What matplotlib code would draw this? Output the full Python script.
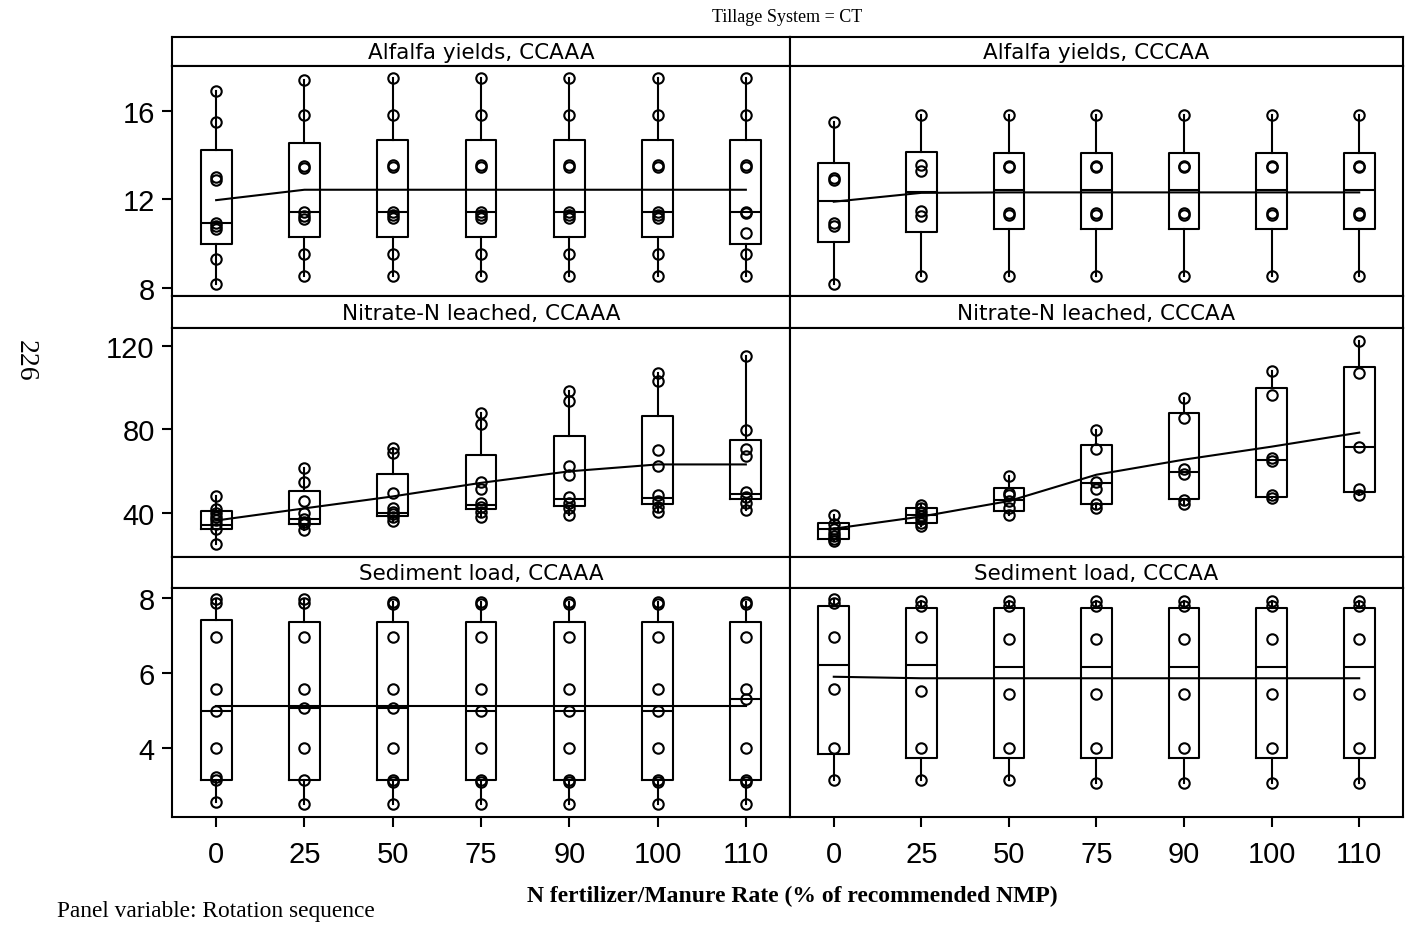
import numpy as np
import matplotlib
matplotlib.use("Agg")
import matplotlib.pyplot as plt

W, H = 1405, 937

rates = ["0", "25", "50", "75", "90", "100", "110"]
rotations = ["CCAAA", "CCCAA"]
responses = ["Alfalfa yields", "Nitrate-N leached", "Sediment load"]

# ---- Alfalfa yields ----
alf_ccaaa_pts = [
    [16.9, 15.5, 13.0, 12.9, 10.95, 10.8, 10.65, 9.3, 8.2],
    [17.38, 15.83, 13.5, 13.4, 11.44, 11.26, 11.11, 9.55, 8.53],
    [17.5, 15.83, 13.55, 13.45, 11.44, 11.3, 11.15, 9.55, 8.53],
    [17.5, 15.83, 13.55, 13.45, 11.44, 11.3, 11.15, 9.55, 8.53],
    [17.5, 15.83, 13.55, 13.45, 11.44, 11.3, 11.15, 9.55, 8.53],
    [17.5, 15.83, 13.55, 13.45, 11.44, 11.3, 11.15, 9.55, 8.53],
    [17.5, 15.83, 13.55, 13.45, 11.44, 11.38, 10.47, 9.55, 8.53],
]
alf_ccaaa_q1 = [10.0, 10.31, 10.31, 10.31, 10.31, 10.31, 9.97]
alf_ccaaa_med = [10.95, 11.44, 11.44, 11.44, 11.44, 11.44, 11.44]
alf_ccaaa_q3 = [14.25, 14.56, 14.69, 14.69, 14.69, 14.69, 14.69]
alf_ccaaa_mean = [11.97, 12.44, 12.44, 12.44, 12.44, 12.44, 12.44]

alf_cccaa_pts = [
    [15.49, 12.97, 12.9, 10.95, 10.8, 8.2],
    [15.83, 13.56, 13.3, 11.5, 11.25, 8.53],
    [15.83, 13.52, 13.45, 11.38, 11.3, 8.53],
    [15.83, 13.52, 13.45, 11.38, 11.3, 8.53],
    [15.83, 13.52, 13.45, 11.38, 11.3, 8.53],
    [15.83, 13.52, 13.45, 11.38, 11.3, 8.53],
    [15.83, 13.52, 13.45, 11.38, 11.3, 8.53],
]
alf_cccaa_q1 = [10.08, 10.53, 10.66, 10.66, 10.66, 10.66, 10.66]
alf_cccaa_med = [11.94, 12.32, 12.44, 12.44, 12.44, 12.44, 12.44]
alf_cccaa_q3 = [13.65, 14.14, 14.1, 14.1, 14.1, 14.1, 14.1]
alf_cccaa_mean = [11.9, 12.3, 12.32, 12.32, 12.32, 12.32, 12.32]

# ---- Nitrate-N leached ----
no3_ccaaa_pts = [
    [48.2, 42.0, 40.3, 38.4, 36.7, 34.6, 32.3, 25.3],
    [61.5, 55.0, 46.0, 40.2, 37.1, 35.6, 34.6, 32.2],
    [71.0, 69.0, 49.5, 42.6, 40.7, 39.5, 38.3, 36.2],
    [88.1, 82.5, 54.8, 51.4, 45.0, 42.8, 40.8, 38.3],
    [98.6, 93.7, 62.4, 58.4, 47.5, 44.8, 42.3, 39.3],
    [107.0, 103.0, 70.4, 62.4, 48.6, 46.0, 43.0, 40.4],
    [115.2, 79.8, 70.7, 67.5, 50.0, 47.8, 45.0, 41.7],
]
no3_ccaaa_q1 = [32.5, 35.0, 38.5, 42.0, 43.3, 44.4, 46.6]
no3_ccaaa_med = [34.5, 37.0, 40.1, 43.8, 46.6, 47.2, 49.1]
no3_ccaaa_q3 = [41.0, 50.4, 58.7, 68.0, 77.1, 86.6, 75.0]
no3_ccaaa_mean = [36.5, 42.3, 48.0, 54.5, 60.0, 63.3, 63.3]

no3_cccaa_pts = [
    [39.0, 35.0, 32.5, 30.5, 29.0, 27.8, 26.5],
    [44.0, 42.5, 40.5, 38.8, 37.0, 35.5, 34.0],
    [57.8, 49.5, 48.5, 45.8, 42.7, 39.0],
    [79.8, 70.6, 55.0, 51.4, 44.3, 42.7],
    [95.0, 85.4, 61.0, 58.5, 46.3, 44.3],
    [108.0, 96.6, 66.5, 64.8, 48.8, 47.2],
    [122.5, 107.0, 71.5, 51.5, 48.5],
]
no3_cccaa_q1 = [27.6, 35.2, 41.1, 44.4, 46.6, 47.9, 50.1]
no3_cccaa_med = [32.3, 39.0, 46.3, 54.2, 59.9, 65.5, 71.5]
no3_cccaa_q3 = [35.2, 42.3, 51.8, 72.8, 87.8, 99.8, 110.1]
no3_cccaa_mean = [32.6, 38.4, 45.8, 58.4, 65.6, 71.8, 78.5]

# ---- Sediment load ----
sed_ccaaa_pts = [
    [7.97, 7.85, 6.96, 5.57, 4.98, 4.0, 3.22, 3.14, 2.55],
    [7.97, 7.85, 6.96, 5.57, 5.07, 4.0, 3.15, 2.49],
    [7.88, 7.84, 6.96, 5.57, 5.07, 4.0, 3.15, 3.08, 2.49],
    [7.88, 7.84, 6.96, 5.57, 4.98, 4.0, 3.15, 3.08, 2.49],
    [7.88, 7.84, 6.96, 5.57, 4.98, 4.0, 3.15, 3.08, 2.49],
    [7.88, 7.84, 6.96, 5.57, 4.98, 4.0, 3.15, 3.08, 2.49],
    [7.88, 7.84, 6.96, 5.57, 5.31, 4.0, 3.15, 3.08, 2.49],
]
sed_ccaaa_q1 = [3.13, 3.13, 3.13, 3.13, 3.13, 3.13, 3.13]
sed_ccaaa_med = [4.98, 5.07, 5.07, 4.98, 4.98, 4.98, 5.31]
sed_ccaaa_q3 = [7.40, 7.35, 7.35, 7.35, 7.35, 7.35, 7.35]
sed_ccaaa_mean = [5.11, 5.11, 5.11, 5.11, 5.11, 5.11, 5.11]

sed_cccaa_pts = [
    [7.97, 7.85, 6.96, 5.57, 4.0, 3.13],
    [7.92, 7.79, 6.96, 5.51, 4.0, 3.13],
    [7.92, 7.79, 6.89, 5.44, 4.0, 3.13],
    [7.92, 7.79, 6.89, 5.44, 4.0, 3.06],
    [7.92, 7.79, 6.89, 5.44, 4.0, 3.06],
    [7.92, 7.79, 6.89, 5.44, 4.0, 3.06],
    [7.92, 7.79, 6.89, 5.44, 4.0, 3.06],
]
sed_cccaa_q1 = [3.82, 3.73, 3.73, 3.73, 3.73, 3.73, 3.73]
sed_cccaa_med = [6.2, 6.2, 6.15, 6.15, 6.15, 6.15, 6.15]
sed_cccaa_q3 = [7.79, 7.73, 7.73, 7.73, 7.73, 7.73, 7.73]
sed_cccaa_mean = [5.89, 5.85, 5.85, 5.85, 5.85, 5.85, 5.85]

panels = [
    [(alf_ccaaa_pts, alf_ccaaa_q1, alf_ccaaa_med, alf_ccaaa_q3, alf_ccaaa_mean),
     (alf_cccaa_pts, alf_cccaa_q1, alf_cccaa_med, alf_cccaa_q3, alf_cccaa_mean)],
    [(no3_ccaaa_pts, no3_ccaaa_q1, no3_ccaaa_med, no3_ccaaa_q3, no3_ccaaa_mean),
     (no3_cccaa_pts, no3_cccaa_q1, no3_cccaa_med, no3_cccaa_q3, no3_cccaa_mean)],
    [(sed_ccaaa_pts, sed_ccaaa_q1, sed_ccaaa_med, sed_ccaaa_q3, sed_ccaaa_mean),
     (sed_cccaa_pts, sed_cccaa_q1, sed_cccaa_med, sed_cccaa_q3, sed_cccaa_mean)],
]
row_ylim = [(7.64, 18.03), (19.3, 128.5), (2.15, 8.27)]
row_yticks = [[8, 12, 16], [40, 80, 120], [4, 6, 8]]

# ---- layout (pixels) ----
col_x = [(172, 790), (790, 1403)]
head_rows = [(38, 67), (297, 329), (557.5, 588.5)]
plot_rows = [(67, 297), (329, 557.5), (588.5, 818)]

LW = 1.5
fig = plt.figure(figsize=(W / 100, H / 100), dpi=100)


def rect(x0, x1, y0, y1):
    return [x0 / W, 1 - y1 / H, (x1 - x0) / W, (y1 - y0) / H]


tick_font = dict(family="Liberation Sans", size=21)

for r in range(3):
    for c in range(2):
        x0, x1 = col_x[c]
        # header strip
        hy0, hy1 = head_rows[r]
        hax = fig.add_axes(rect(x0, x1, hy0, hy1))
        hax.set_xticks([])
        hax.set_yticks([])
        for s in hax.spines.values():
            s.set_linewidth(LW)
        hax.text(0.5, 0.47, f"{responses[r]}, {rotations[c]}",
                 ha="center", va="center", transform=hax.transAxes,
                 family="DejaVu Sans", fontsize=15.5)

        # data cell
        py0, py1 = plot_rows[r]
        ax = fig.add_axes(rect(x0, x1, py0, py1))
        pts, q1, med, q3, mean = panels[r][c]
        pos = np.arange(len(rates))
        stats = []
        for i in range(len(rates)):
            stats.append(dict(q1=q1[i], med=med[i], q3=q3[i],
                              whislo=min(pts[i]), whishi=max(pts[i]),
                              fliers=[]))
        ax.bxp(stats, positions=pos, widths=0.35, showcaps=False,
               showfliers=False, patch_artist=False,
               boxprops=dict(color="black", linewidth=LW),
               whiskerprops=dict(color="black", linewidth=LW),
               medianprops=dict(color="black", linewidth=LW))
        ax.plot(pos, mean, color="black", linewidth=LW, zorder=3)
        for i in range(len(rates)):
            ax.plot(np.full(len(pts[i]), pos[i]), pts[i], linestyle="none",
                    marker="o", markersize=7.5, markerfacecolor="none",
                    markeredgecolor="black", markeredgewidth=1.5, zorder=4)
        ax.set_xlim(-0.5, len(rates) - 0.5)
        ax.set_ylim(*row_ylim[r])
        for s in ax.spines.values():
            s.set_linewidth(LW)
        ax.tick_params(direction="out", length=7.5, width=LW, color="black")
        if c == 0:
            ax.set_yticks(row_yticks[r])
            ax.set_yticklabels([str(v) for v in row_yticks[r]], **tick_font)
            ax.tick_params(axis="y", pad=5)
        else:
            ax.set_yticks([])
        if r == 2:
            ax.set_xticks(pos)
            ax.set_xticklabels(rates, **tick_font)
            ax.tick_params(axis="x", pad=9)
        else:
            ax.set_xticks([])

fig.text(787.5 / W, 1 - 17 / H, "Tillage System = CT", ha="center",
         va="center", family="Liberation Serif", fontsize=13)
fig.text(792 / W, 1 - 896 / H, "N fertilizer/Manure Rate (% of recommended NMP)",
         ha="center", va="center", family="Liberation Serif",
         fontweight="bold", fontsize=17)
fig.text(57 / W, 1 - 912 / H, "Panel variable: Rotation sequence",
         ha="left", va="center", family="Liberation Serif", fontsize=16.8)
fig.text(25 / W, 1 - 361 / H, "226", ha="center", va="center",
         rotation=-90, family="Liberation Serif", fontsize=20)

fig.savefig("out.png", dpi=100)
